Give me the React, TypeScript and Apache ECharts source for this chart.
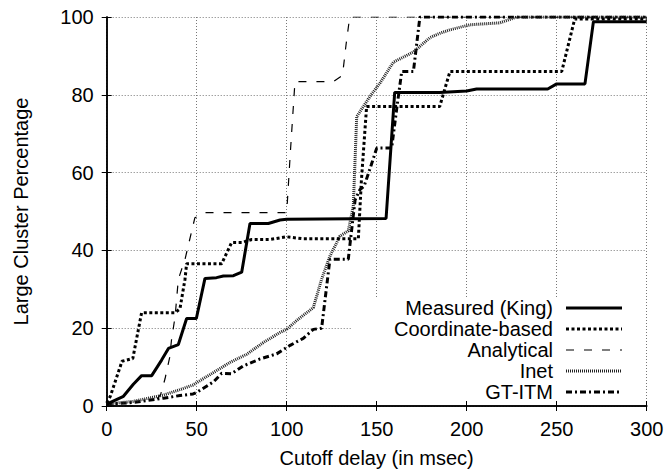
import React, { useEffect, useRef } from "react";
import * as echarts from "echarts";

// [cutoff delay (msec), large cluster percentage]
const measuredKing: number[][] = [
  [0, 0.5], [9.3, 2.5], [14.8, 5.6], [19.4, 7.8], [25, 7.8], [30.5, 11.8],
  [34.3, 14.8], [39.8, 15.8], [44.4, 22.5], [49.8, 22.5], [54.6, 32.8],
  [61, 33], [64.8, 33.4], [70.4, 33.5], [75, 34.4], [79.6, 46.9], [89.8, 46.9],
  [96.3, 47.8], [100, 48], [155.2, 48.2], [160, 80.6], [185, 80.6], [200, 81],
  [205.5, 81.5], [245, 81.5], [250, 82.8], [265.7, 82.8], [270.4, 98.8],
  [300, 98.8],
];

const coordinateBased: number[][] = [
  [0, 0.8], [2, 2.5], [8.5, 11.5], [14.5, 12.2], [19.4, 24], [38, 24],
  [40.7, 25], [43.5, 32.6], [44.4, 36.6], [63.9, 36.6], [69.4, 42], [75, 42],
  [80.6, 42.8], [90.7, 42.8], [100, 43.5], [109, 43], [139.8, 43],
  [141.5, 58], [144.4, 77], [158.3, 77], [185, 77], [190.7, 86], [252.8, 86],
  [260, 99.5], [300, 99.5],
];

const analytical: number[][] = [
  [0, 0], [25, 0], [30, 3], [32.4, 7], [35, 12.5], [36, 17], [38, 23],
  [39.8, 32.6], [43.5, 37.7], [49, 48.4], [54.6, 49.7], [100, 49.7],
  [102, 65], [104.6, 83.4], [126, 83.4], [131, 85], [133, 93], [135, 100],
  [300, 100],
];

const inet: number[][] = [
  [0, 0.5], [14.8, 1.2], [31.5, 2.8], [40.7, 4.2], [48, 5.4], [50, 6],
  [59.3, 8.6], [68.5, 11.2], [77.8, 13.3], [87, 16.3], [96.3, 18.9],
  [100, 19.7], [105.6, 22], [114.8, 25.3], [119.4, 32.6], [124, 38.5],
  [129.6, 43.7], [134.2, 45], [137, 51.4], [138.9, 74.4], [146.3, 79.6],
  [151.8, 83], [159.3, 88.4], [170.4, 91], [179.6, 94.7], [185, 95.8],
  [190.7, 96.7], [201.8, 98], [218.5, 98.5], [227.8, 100], [300, 100],
];

const gtItm: number[][] = [
  [0, 0.5], [14.8, 0.9], [31.5, 2], [40.7, 2.7], [48, 3.1], [50, 3.5],
  [59.3, 6.2], [63.9, 8.4], [69.4, 8.3], [75.9, 10.3], [85.2, 12.1],
  [94.4, 13.4], [101.9, 15.6], [109.2, 17.4], [114.8, 19.7], [119.4, 20],
  [124, 37.7], [134.2, 37.7], [138, 53], [140.7, 55.6], [143, 56.5],
  [147, 62], [150, 66.3], [158.3, 66.3], [161, 76], [163.9, 86], [170.4, 86],
  [174, 100], [300, 100],
];

const seriesNames = ["Measured (King)", "Coordinate-based", "Analytical", "Inet", "GT-ITM"];

const FONT = "'Liberation Sans', Arial, Helvetica, sans-serif";

// line looks, gnuplot style
const lineLooks: { width: number; type: any; color: string }[] = [
  { width: 3, type: "solid", color: "#000" },
  { width: 3, type: [3, 2.5], color: "#000" },
  { width: 1.2, type: [8, 10], color: "#000" },
  { width: 3, type: [1, 1], color: "#222" },
  { width: 3, type: [6, 3, 2, 3], color: "#000" },
];

const App: React.FC = () => {
  const chartRef = useRef<HTMLDivElement>(null);

  useEffect(() => {
    if (!chartRef.current) return;
    const chart = echarts.init(chartRef.current, undefined, { renderer: "svg" });

    const dataSets = [measuredKing, coordinateBased, analytical, inet, gtItm];

    const axisCommon = {
      type: "value" as const,
      axisLine: { show: true, lineStyle: { color: "#000", width: 1.5 } },
      axisTick: { show: true, inside: true, length: 5, lineStyle: { color: "#000", width: 1 } },
    };

    // legend drawn gnuplot-like: text right aligned, sample to the right
    const legendItems: any[] = [];
    seriesNames.forEach((name, i) => {
      const cy = 308 + i * 21;
      legendItems.push({
        type: "text",
        x: 553,
        y: cy,
        z: 10,
        style: {
          text: name,
          fill: "#000",
          font: `20px ${FONT}`,
          align: "right",
          verticalAlign: "middle",
        },
      });
      legendItems.push({
        type: "line",
        z: 10,
        shape: { x1: 566, y1: cy, x2: 622, y2: cy },
        style: {
          stroke: lineLooks[i].color,
          lineWidth: lineLooks[i].width,
          lineDash: lineLooks[i].type === "solid" ? null : lineLooks[i].type,
        },
      });
    });

    const option: echarts.EChartsOption = {
      animation: false,
      backgroundColor: "#fff",
      grid: { left: 106.7, right: 23.3, top: 17, bottom: 66, containLabel: false },
      xAxis: [
        {
          ...axisCommon,
          position: "bottom",
          min: 0,
          max: 300,
          interval: 50,
          axisLabel: { color: "#000", fontSize: 20, fontFamily: FONT, margin: 13 },
          splitLine: { show: true, lineStyle: { color: "#777", width: 1, type: [1, 2] } },
          name: "Cutoff delay (in msec)",
          nameLocation: "middle",
          nameGap: 42,
          nameTextStyle: { color: "#000", fontSize: 20, fontFamily: FONT },
        },
        {
          ...axisCommon,
          position: "top",
          min: 0,
          max: 300,
          interval: 50,
          axisLabel: { show: false },
          splitLine: { show: false },
        },
      ],
      yAxis: [
        {
          ...axisCommon,
          position: "left",
          min: 0,
          max: 100,
          interval: 20,
          axisLabel: { color: "#000", fontSize: 20, fontFamily: FONT, margin: 13 },
          splitLine: { show: true, lineStyle: { color: "#777", width: 1, type: [1, 2] } },
          name: "Large Cluster Percentage",
          nameLocation: "middle",
          nameGap: 76,
          nameTextStyle: { color: "#000", fontSize: 20, fontFamily: FONT },
        },
        {
          ...axisCommon,
          position: "right",
          min: 0,
          max: 100,
          interval: 20,
          axisLabel: { show: false },
          splitLine: { show: false },
        },
      ],
      graphic: [
        {
          type: "rect",
          z: 1,
          silent: true,
          shape: { x: 352, y: 297, width: 294, height: 104 },
          style: { fill: "#fff" },
        },
        ...legendItems,
      ],
      series: seriesNames.map((name, i) => ({
        name,
        type: "line",
        xAxisIndex: 0,
        yAxisIndex: 0,
        data: dataSets[i],
        symbol: "none",
        showSymbol: false,
        z: 3 + (4 - i),
        lineStyle: {
          color: lineLooks[i].color,
          width: lineLooks[i].width,
          type: lineLooks[i].type,
        },
      })),
    };

    chart.setOption(option);

    return () => {
      chart.dispose();
    };
  }, []);

  return (
    <div
      ref={chartRef}
      style={{
        position: "fixed",
        left: 0,
        top: 0,
        width: "670px",
        height: "473px",
        backgroundColor: "#fff",
      }}
    />
  );
};

export default App;
